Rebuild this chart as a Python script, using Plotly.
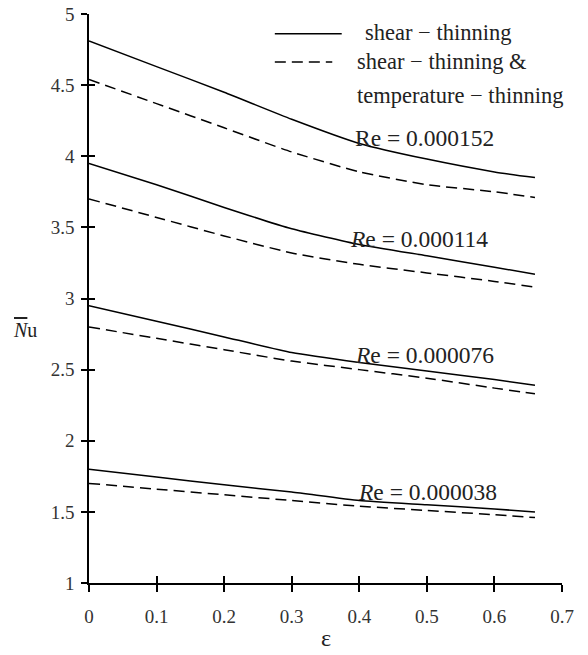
import plotly.graph_objects as go

eps = [0.0, 0.1, 0.2, 0.3, 0.4, 0.5, 0.6, 0.66]

# shear-thinning (solid)
st_152 = [4.81, 4.63, 4.45, 4.26, 4.09, 3.98, 3.89, 3.85]
st_114 = [3.95, 3.80, 3.64, 3.49, 3.38, 3.30, 3.22, 3.17]
st_076 = [2.95, 2.84, 2.73, 2.62, 2.55, 2.49, 2.43, 2.39]
st_038 = [1.80, 1.745, 1.69, 1.64, 1.58, 1.55, 1.52, 1.50]

# shear-thinning & temperature-thinning (dashed)
stt_152 = [4.54, 4.37, 4.20, 4.03, 3.89, 3.80, 3.75, 3.71]
stt_114 = [3.70, 3.57, 3.44, 3.32, 3.24, 3.18, 3.12, 3.08]
stt_076 = [2.80, 2.72, 2.64, 2.56, 2.50, 2.44, 2.37, 2.33]
stt_038 = [1.70, 1.66, 1.62, 1.58, 1.54, 1.51, 1.48, 1.46]

re_labels = ["Re = 0.000152", "<i>R</i>e = 0.000114", "<i>R</i>e = 0.000076", "<i>R</i>e = 0.000038"]
re_label_pos = [(0.391, 4.13), (0.384, 3.42), (0.391, 2.60), (0.395, 1.64)]

x_ticks = [0, 0.1, 0.2, 0.3, 0.4, 0.5, 0.6, 0.7]
x_ticktext = ["0", "0.1", "0.2", "0.3", "0.4", "0.5", "0.6", "0.7"]
y_ticks = [1, 1.5, 2, 2.5, 3, 3.5, 4, 4.5, 5]
y_ticktext = ["1", "1.5", "2", "2.5", "3", "3.5", "4", "4.5", "5"]

FONT = "Liberation Serif"
DASH = "11px,6px"

fig = go.Figure()
for ys in [st_152, st_114, st_076, st_038]:
    fig.add_trace(go.Scatter(x=eps, y=ys, mode="lines", showlegend=False,
                             line=dict(color="black", width=1.5, shape="spline", smoothing=0.5)))
for ys in [stt_152, stt_114, stt_076, stt_038]:
    fig.add_trace(go.Scatter(x=eps, y=ys, mode="lines", showlegend=False,
                             line=dict(color="black", width=1.5, dash=DASH, shape="spline", smoothing=0.5)))

# legend (drawn manually)
fig.add_shape(type="line", xref="x", yref="y", x0=0.275, x1=0.374, y0=4.862, y1=4.862,
              line=dict(color="black", width=1.5))
fig.add_shape(type="line", xref="x", yref="y", x0=0.275, x1=0.36, y0=4.662, y1=4.662,
              line=dict(color="black", width=1.5, dash=DASH))
legend_texts = [("shear − thinning", 0.405, 4.87),
                ("shear − thinning &", 0.393, 4.665),
                ("temperature − thinning", 0.393, 4.43)]
for t, xx, yy in legend_texts:
    fig.add_annotation(text=t, x=xx, y=yy, xref="x", yref="y", xanchor="left", yanchor="middle",
                       showarrow=False, font=dict(family=FONT, size=22.5, color="#222"))

for t, (xx, yy) in zip(re_labels, re_label_pos):
    fig.add_annotation(text=t, x=xx, y=yy, xref="x", yref="y", xanchor="left", yanchor="middle",
                       showarrow=False, font=dict(family=FONT, size=23.5, color="#222"))

# axis titles
fig.add_annotation(text="<span style='text-decoration:overline'><i>N</i></span>u", x=-0.135, y=2.78,
                   xref="paper", yref="y", xanchor="center", yanchor="middle", showarrow=False,
                   font=dict(family=FONT, size=20, color="#222"))
fig.add_annotation(text="ε", x=0.35, y=-0.097, xref="x", yref="paper", xanchor="center",
                   yanchor="middle", showarrow=False, font=dict(family=FONT, size=24, color="#222"))

axis_common = dict(showgrid=False, zeroline=False, showline=True, linecolor="black", linewidth=1.5,
                   tickcolor="black", tickwidth=1.5, automargin=False,
                   tickfont=dict(family=FONT, size=19, color="#333"))

fig.update_layout(
    width=588, height=655,
    margin=dict(l=89, r=26, t=13.5, b=72),
    paper_bgcolor="white", plot_bgcolor="white",
    xaxis=dict(range=[0, 0.7], tickvals=x_ticks, ticktext=x_ticktext, ticks="outside", ticklen=7,
               ticklabelstandoff=8, **axis_common),
    yaxis=dict(range=[1, 5], tickvals=y_ticks, ticktext=y_ticktext, ticks="outside", ticklen=6,
               ticklabelstandoff=3, **axis_common),
    xaxis2=dict(range=[0, 0.7], tickvals=x_ticks, ticks="inside", ticklen=7, showticklabels=False,
                overlaying="x", anchor="y2", showgrid=False, zeroline=False, showline=False,
                tickcolor="black", tickwidth=1.5, automargin=False),
    yaxis2=dict(range=[1, 5], tickvals=y_ticks, ticks="inside", ticklen=6, showticklabels=False,
                overlaying="y", anchor="x2", showgrid=False, zeroline=False, showline=False,
                tickcolor="black", tickwidth=1.5, automargin=False),
)
# invisible trace to activate overlay axes
fig.add_trace(go.Scatter(x=[0], y=[1], xaxis="x2", yaxis="y2", mode="markers",
                         marker=dict(opacity=0), showlegend=False, hoverinfo="skip"))

fig.write_html("out.html")
